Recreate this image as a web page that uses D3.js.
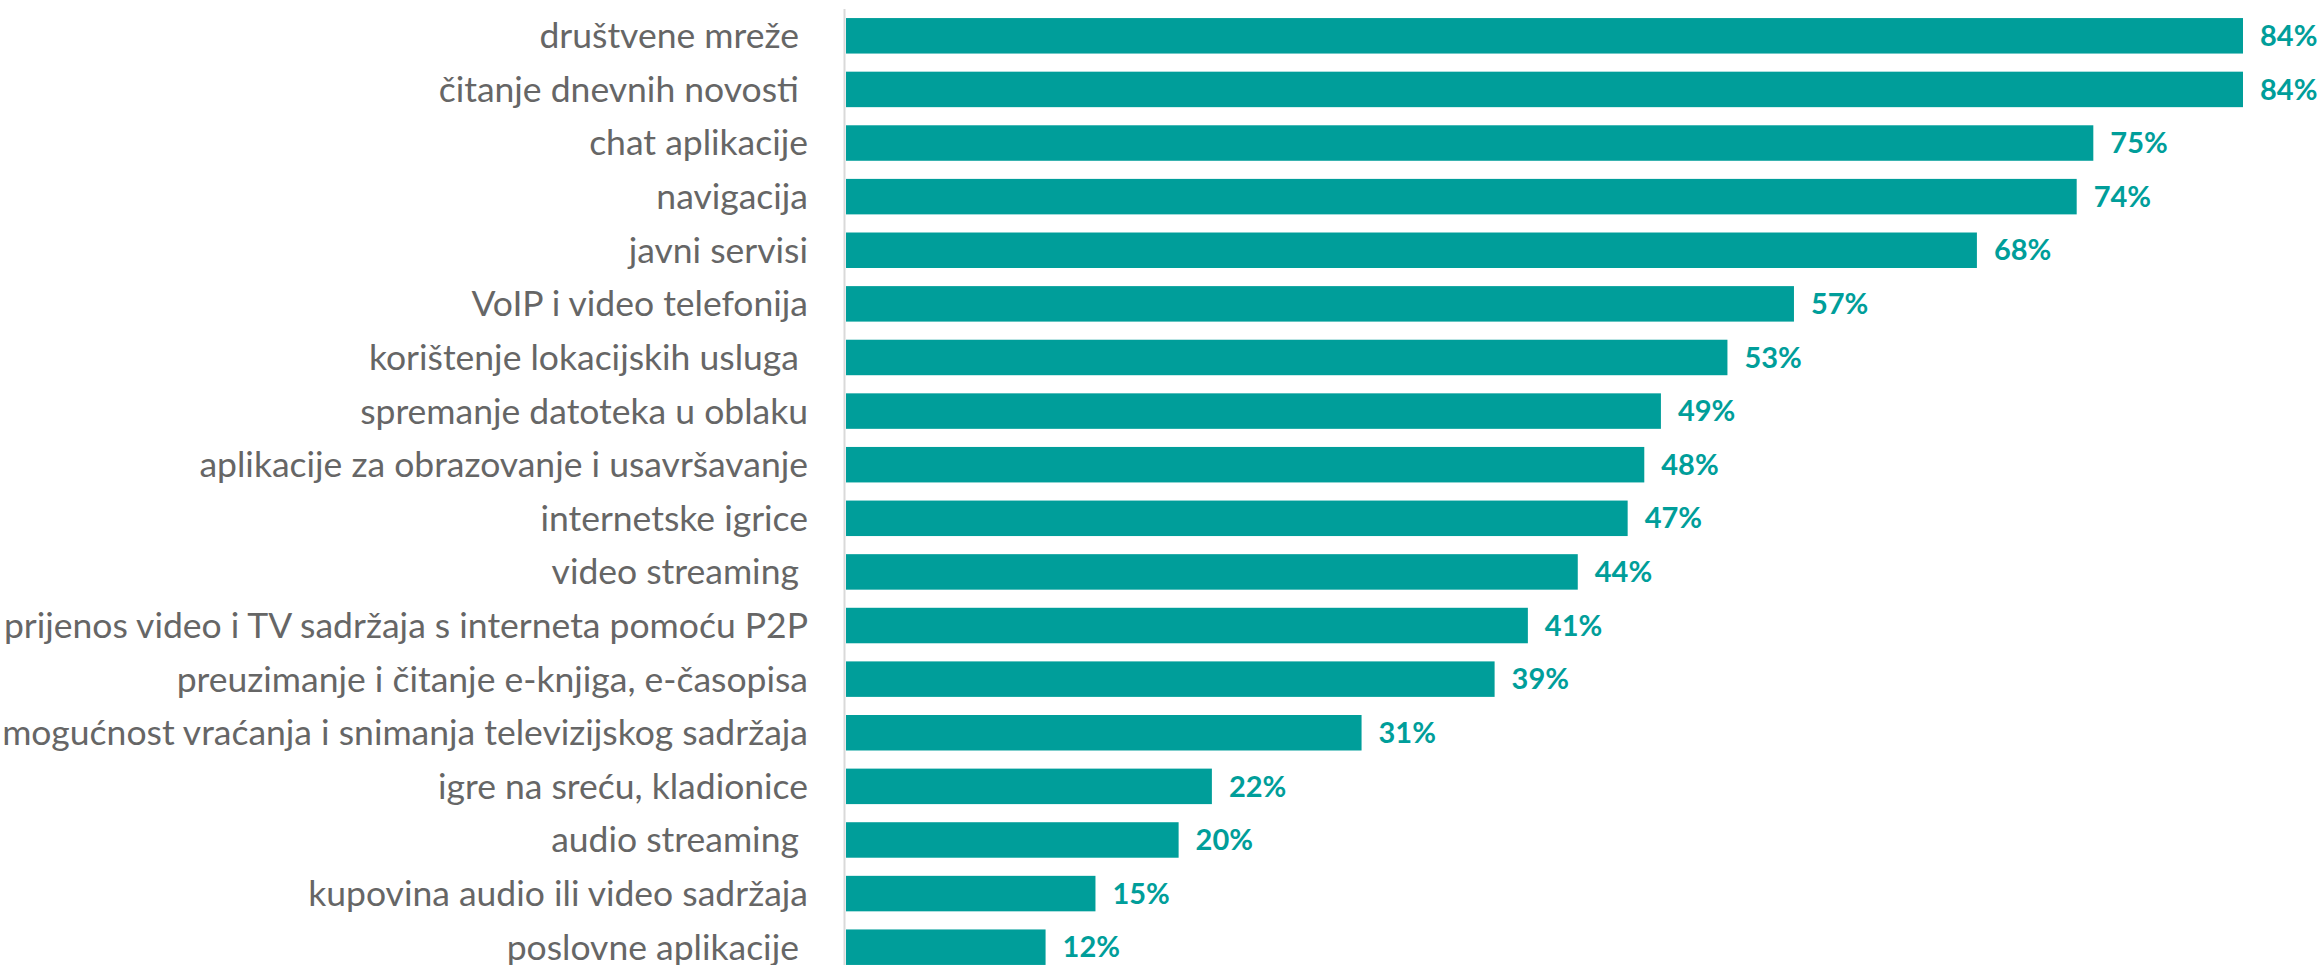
<!DOCTYPE html>
<html>
<head>
<meta charset="utf-8">
<script src="https://cdn.jsdelivr.net/npm/d3@7"></script>
<style>
  body { margin: 0; background: #fff; }
  svg { display: block; }
  text { white-space: pre; }
</style>
</head>
<body>
<div id="chart"></div>
<script>
// categories, top to bottom (some original labels carry a trailing space)
var categories = [
  "društvene mreže ",
  "čitanje dnevnih novosti ",
  "chat aplikacije",
  "navigacija",
  "javni servisi",
  "VoIP i video telefonija",
  "korištenje lokacijskih usluga ",
  "spremanje datoteka u oblaku",
  "aplikacije za obrazovanje i usavršavanje",
  "internetske igrice",
  "video streaming ",
  "prijenos video i TV sadržaja s interneta pomoću P2P",
  "preuzimanje i čitanje e-knjiga, e-časopisa",
  "mogućnost vraćanja i snimanja televizijskog sadržaja",
  "igre na sreću, kladionice",
  "audio streaming ",
  "kupovina audio ili video sadržaja",
  "poslovne aplikacije "
];
var values = [84, 84, 75, 74, 68, 57, 53, 49, 48, 47, 44, 41, 39, 31, 22, 20, 15, 12];

var width = 2321, height = 965;
var teal = "#009e9a";
var grey = "#666666";
var fontFam = "Lato, 'Open Sans', sans-serif";

var svg = d3.select("#chart").append("svg")
  .attr("width", width).attr("height", height);

var x = d3.scaleLinear().domain([0, 84]).range([846, 2243]);
var y = d3.scaleBand().domain(d3.range(categories.length))
  .range([9, 974]).paddingInner(0.338).paddingOuter(0.169);

// fit category font so the longest label spans like the original
var probe = svg.append("text").attr("font-family", fontFam).attr("font-size", 36)
  .text("mogućnost vraćanja i snimanja televizijskog sadržaja");
var catSize = 36 * 806 / probe.node().getComputedTextLength();
probe.remove();

svg.selectAll("rect.bar")
  .data(values)
  .enter().append("rect")
  .attr("class", "bar")
  .attr("x", x(0))
  .attr("y", function(d, i) { return y(i); })
  .attr("width", function(d) { return x(d) - x(0); })
  .attr("height", y.bandwidth())
  .attr("fill", teal);

// vertical axis line
svg.append("line")
  .attr("x1", 844.5).attr("x2", 844.5)
  .attr("y1", 9).attr("y2", height)
  .attr("stroke", "#d9d9d9").attr("stroke-width", 2);

svg.selectAll("text.cat")
  .data(categories)
  .enter().append("text")
  .attr("class", "cat")
  .attr("x", 808)
  .attr("y", function(d, i) { return y(i) + y.bandwidth() / 2; })
  .attr("dy", "0.35em")
  .attr("text-anchor", "end")
  .attr("font-family", fontFam)
  .attr("font-size", catSize)
  .attr("fill", grey)
  .text(function(d) { return d; });

svg.selectAll("text.val")
  .data(values)
  .enter().append("text")
  .attr("class", "val")
  .attr("x", function(d) { return x(d) + 17; })
  .attr("y", function(d, i) { return y(i) + y.bandwidth() / 2; })
  .attr("dy", "0.35em")
  .attr("font-family", fontFam)
  .attr("font-weight", "bold")
  .attr("font-size", 29)
  .attr("fill", teal)
  .text(function(d) { return d + "%"; });
</script>
</body>
</html>
